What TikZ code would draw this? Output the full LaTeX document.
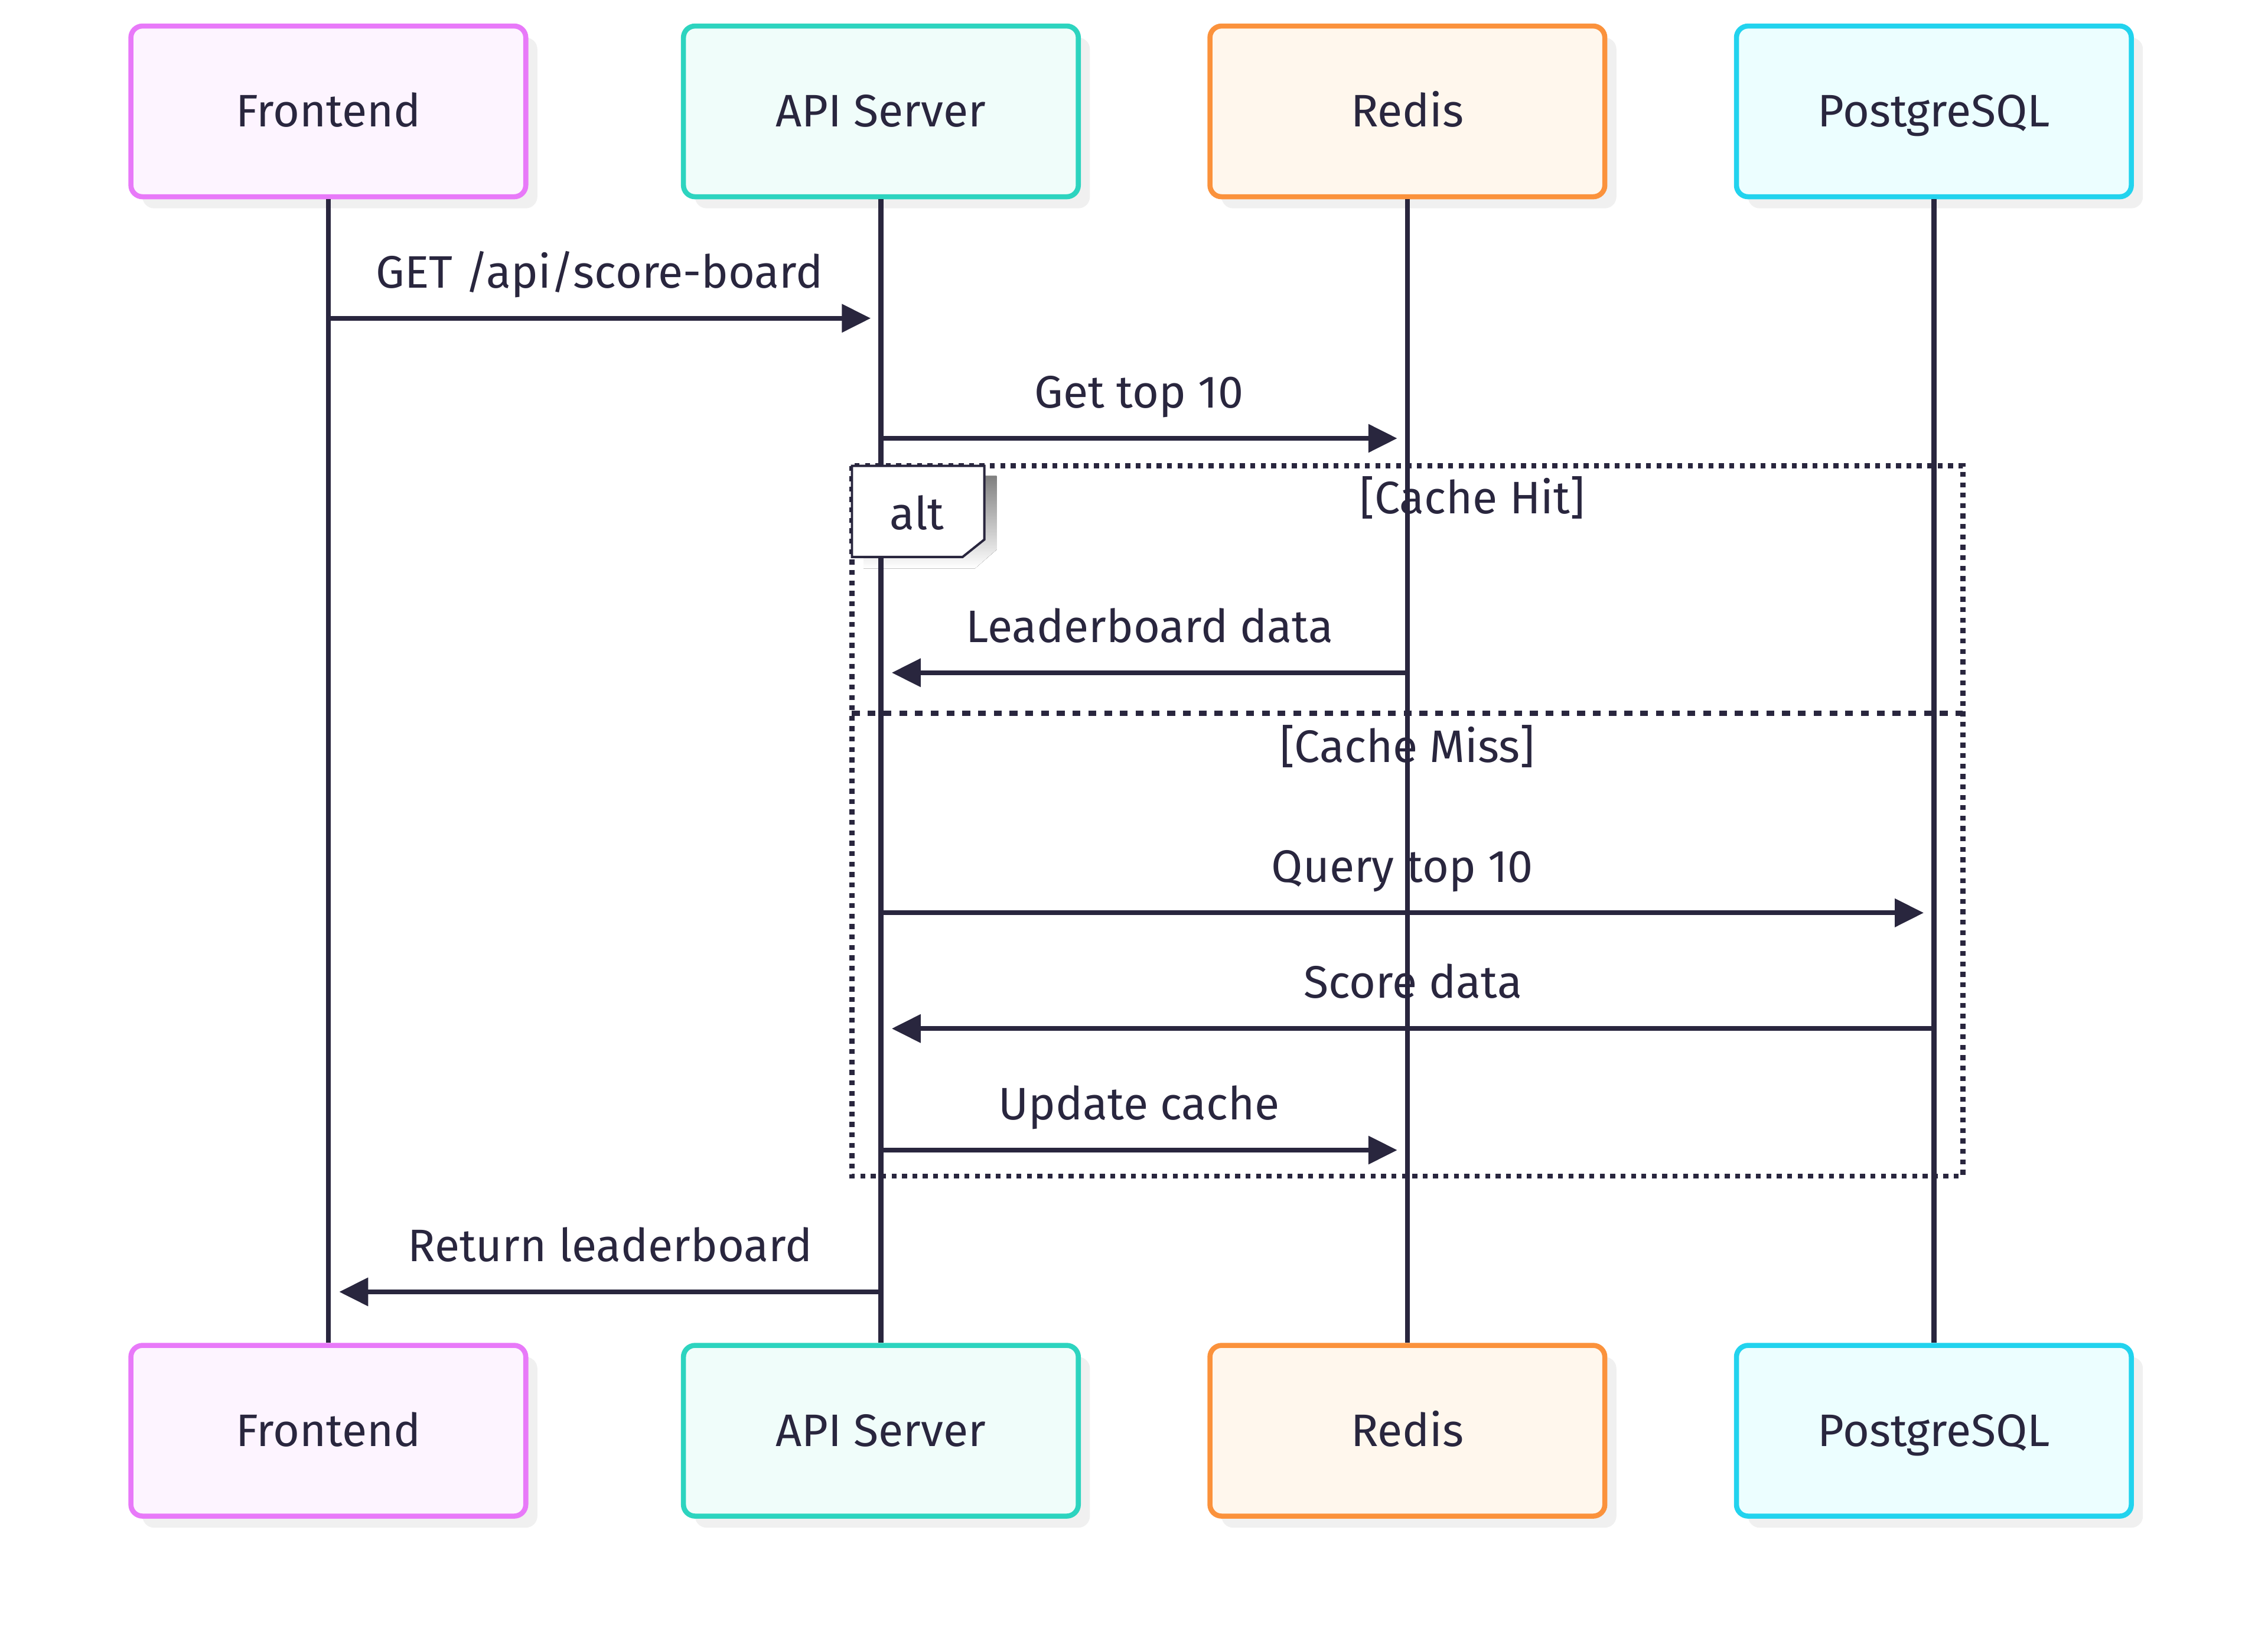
\documentclass[tikz,border=0pt]{standalone}
\usepackage{fontspec}
\setmainfont{Fira Sans}
\usetikzlibrary{arrows.meta,shadows}

\definecolor{ink}{HTML}{29263E}
\definecolor{shade}{HTML}{F0F0F0}
\definecolor{feline}{HTML}{E879F9}
\definecolor{fefill}{HTML}{FDF4FF}
\definecolor{apiline}{HTML}{2DD4BF}
\definecolor{apifill}{HTML}{F0FDFA}
\definecolor{rdline}{HTML}{FB923C}
\definecolor{rdfill}{HTML}{FFF7ED}
\definecolor{pgline}{HTML}{22D3EE}
\definecolor{pgfill}{HTML}{ECFEFF}

\tikzset{
	txt/.style={text=ink, font=\fontsize{31.5}{38}\selectfont},
	actor/.style={txt, shape=rectangle, rounded corners=8pt, line width=3.5pt, minimum width=273pt, minimum height=118pt, inner sep=0pt, text height=21.5pt, text depth=0pt, general shadow={fill=shade, shadow xshift=8pt, shadow yshift=-8pt}},
	life/.style={line width=3.5pt, draw=ink},
	msg/.style={line width=3.4pt, draw=ink, -{Triangle[length=20pt,width=19pt]}},
	lbl/.style={txt, anchor=base, yshift=21pt},
	frame/.style={line width=3.6pt, draw=ink, dash pattern=on 3.4pt off 3.8pt},
	split/.style={line width=3.6pt, draw=ink, dash pattern=on 5.4pt off 5.5pt},
}

\begin{document}
\begin{tikzpicture}[x=1pt, y=-1pt]
	
	\useasboundingbox (0, 0) rectangle (1568, 1125);
	
	% participants
	\node[actor, draw=feline, fill=fefill]   (fe)  at (227, 77)  {Frontend};
	\node[actor, draw=apiline, fill=apifill] (api) at (609, 77)  {API Server};
	\node[actor, draw=rdline, fill=rdfill]   (rd)  at (973, 77)  {Redis};
	\node[actor, draw=pgline, fill=pgfill]   (pg)  at (1337, 77) {PostgreSQL};
	
	\node[actor, draw=feline, fill=fefill]   (feB)  at (227, 989)  {Frontend};
	\node[actor, draw=apiline, fill=apifill] (apiB) at (609, 989)  {API Server};
	\node[actor, draw=rdline, fill=rdfill]   (rdB)  at (973, 989)  {Redis};
	\node[actor, draw=pgline, fill=pgfill]   (pgB)  at (1337, 989) {PostgreSQL};
	
	% alt block
	\coordinate (altNW) at (589, 322);
	\coordinate (altSE) at (1357, 813);
	\coordinate (altW) at (589, 493);
	\coordinate (altE) at (1357, 493);
	\fill[shade] (597, 329) -- (689, 329) -- (689, 380) -- (674, 393) -- (597, 393) -- cycle;
	
	% lifelines
	\path[life] (fe) edge (feB);
	\path[life] (api) edge (apiB);
	\path[life] (rd) edge (rdB);
	\path[life] (pg) edge (pgB);
	
	\draw[frame] (altNW) rectangle (altSE);
	\draw[split] (altW) -- (altE);
	\draw[fill=white, line width=1.6pt, draw=ink] (589, 322) -- (680.5, 322) -- (680.5, 373) -- (665.5, 385) -- (589, 385) -- cycle;
	\node[txt, anchor=base] (alt) at (634, 366) {alt};
	\node[txt, anchor=base] (hit) at (1018, 355) {[Cache Hit]};
	\node[txt, anchor=base] (miss) at (973, 527) {[Cache Miss]};
	
	% messages
	\coordinate (fe1) at (227, 220);   \coordinate (api1) at (602, 220);
	\coordinate (api2) at (609, 303);  \coordinate (rd2) at (966, 303);
	\coordinate (rd3) at (973, 465);   \coordinate (api3) at (616.5, 465);
	\coordinate (api4) at (609, 631);  \coordinate (pg4) at (1330, 631);
	\coordinate (pg5) at (1337, 711);  \coordinate (api5) at (616.5, 711);
	\coordinate (api6) at (609, 795);  \coordinate (rd6) at (966, 795);
	\coordinate (api7) at (609, 893);  \coordinate (fe7) at (234.5, 893);
	
	\draw[msg] (fe1) -- node[lbl] {GET /api/score-board} (api1);
	\draw[msg] (api2) -- node[lbl] {Get top 10} (rd2);
	\draw[msg] (rd3) -- node[lbl] {Leaderboard data} (api3);
	\draw[msg] (api4) -- node[lbl] {Query top 10} (pg4);
	\draw[msg] (pg5) -- node[lbl] {Score data} (api5);
	\draw[msg] (api6) -- node[lbl] {Update cache} (rd6);
	\draw[msg] (api7) -- node[lbl] {Return leaderboard} (fe7);
	
\end{tikzpicture}
\end{document}
